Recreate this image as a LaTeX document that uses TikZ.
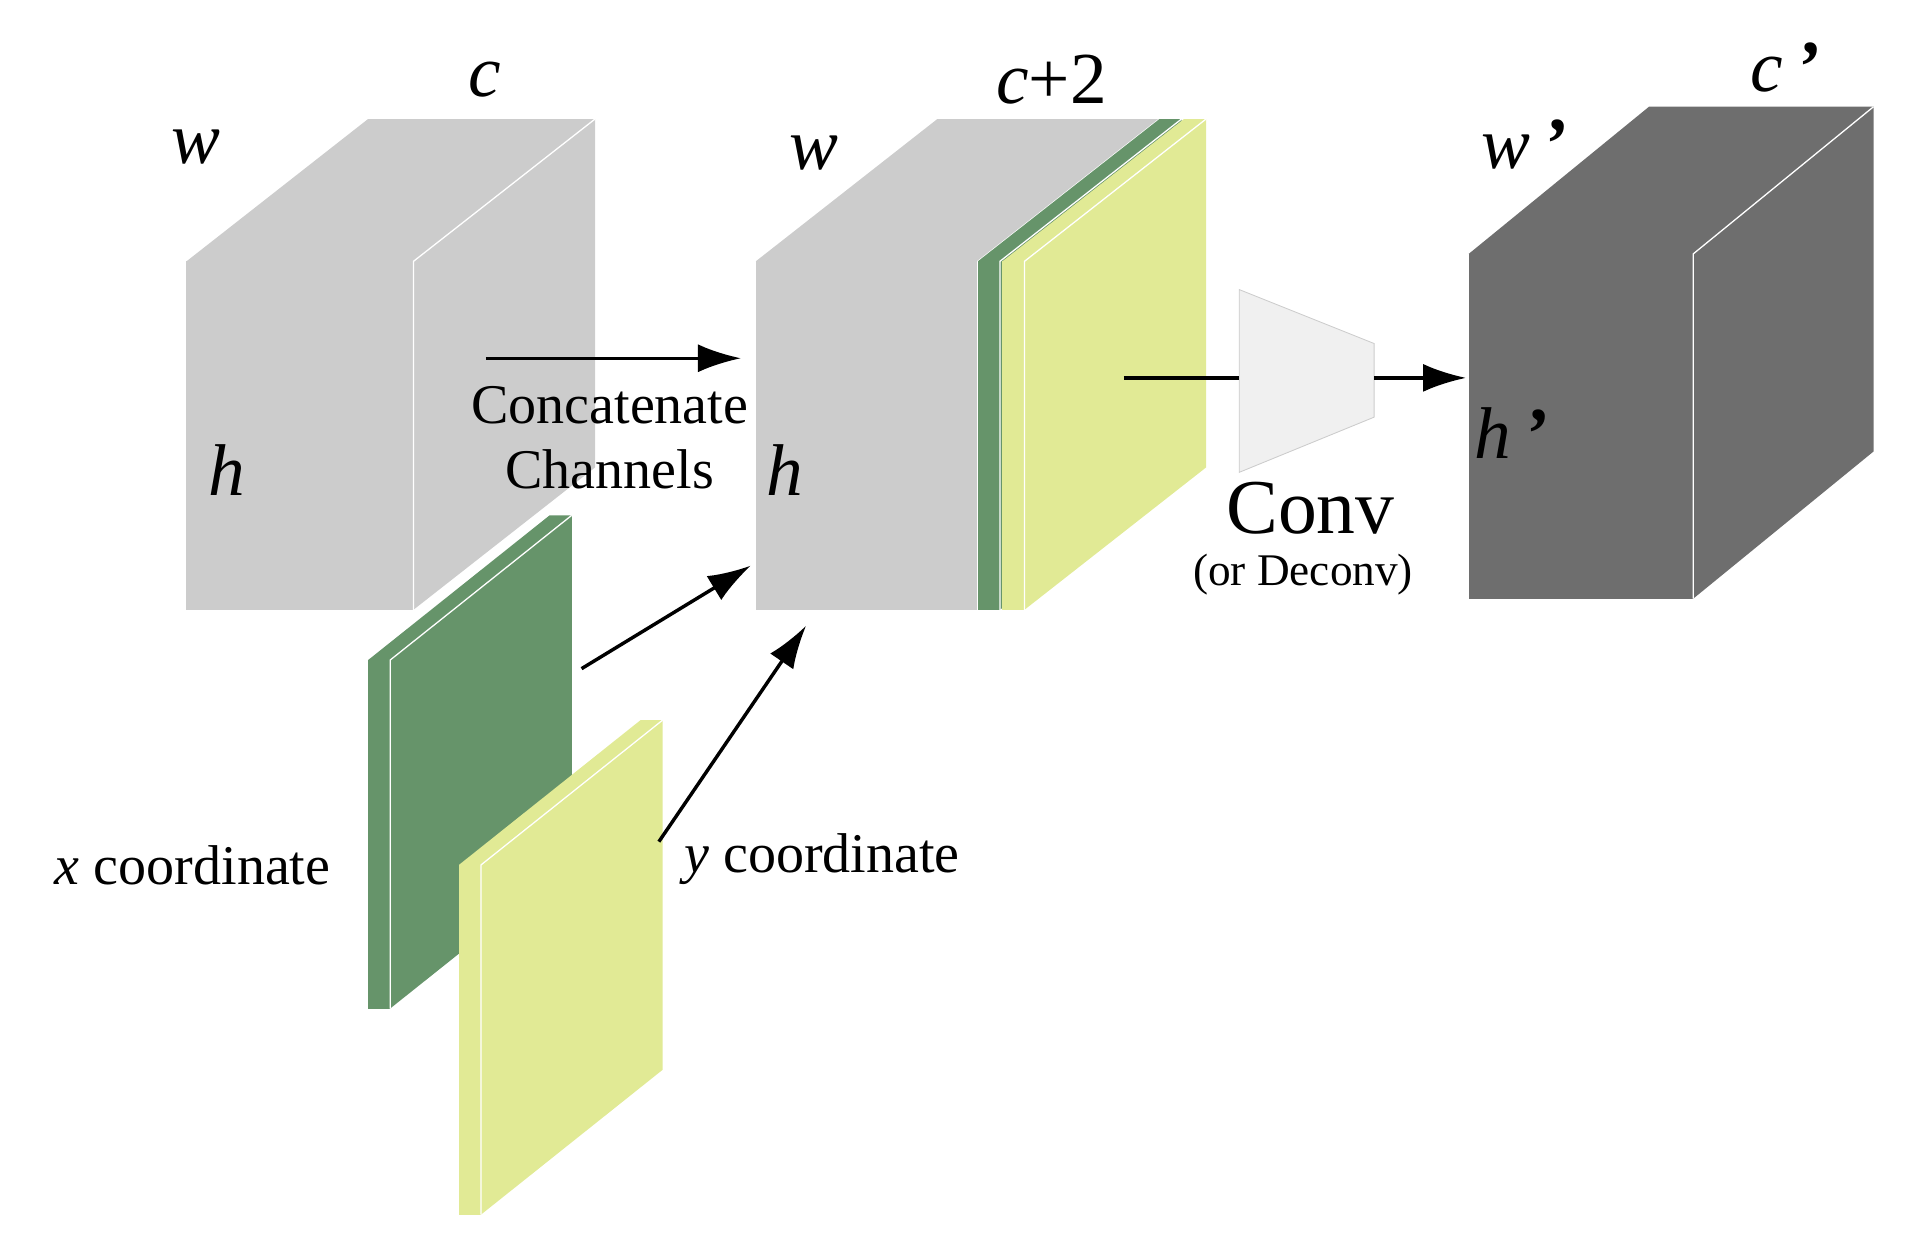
\documentclass[tikz,border=0pt]{standalone}
\usepackage{fontspec}
\setmainfont{Liberation Serif}
\usetikzlibrary{arrows.meta,calc}
\definecolor{lgrey}{HTML}{CCCCCC}
\definecolor{dgrey}{HTML}{6E6E6E}
\definecolor{lgreen}{HTML}{66946A}
\definecolor{lyellow}{HTML}{E1EA95}
\newcommand{\slab}[6]{% x0 x1 ytop ybot dx/dy colour
  \fill[#6] (#1,#3) rectangle (#2,#4);
  \fill[#6] (#1,#3) -- ++(#5) -- ($(#2,#3)+(#5)$) -- (#2,#3) -- cycle;
  \fill[#6] (#2,#3) -- ++(#5) -- ($(#2,#4)+(#5)$) -- (#2,#4) -- cycle;
  \draw[white,line width=0.6pt] (#2,#4) -- (#2,#3) -- ++(#5);
}
\begin{document}
\begin{tikzpicture}[x=0.02cm,y=-0.02cm,
    lbl/.style={font=\fontsize{34}{38}\selectfont\itshape},
    txt/.style={font=\fontsize{26}{30}\selectfont},
    arr/.style={-{Latex[length=20pt,width=13pt]},line width=1.6pt}]
  \useasboundingbox (0,0) rectangle (1560,1026);
  % input block
  \slab{152}{337}{213}{497}{148,-116}{lgrey}
  \node[lbl] (w1) at (160,120) {w};
  \node[lbl] (c1) at (395,65) {c};
  \node[lbl] (h1) at (185,383) {h};
  % coordinate channels
  \slab{300}{318}{538}{822}{148,-118}{lgreen}
  \slab{374}{392}{705}{990}{148,-118}{lyellow}
  \node[txt] (xc) at (157,705) {\textit{x} coordinate};
  \node[txt] (yc) at (670,700) {\textit{y} coordinate};
  % concatenated block
  \slab{616}{797}{213}{497}{148,-116}{lgrey}
  \slab{797}{815}{213}{497}{148,-116}{lgreen}
  \slab{817}{835}{213}{497}{148,-116}{lyellow}
  \node[lbl] (w2) at (663,125) {w};
  \node[lbl] (c2) at (857,65) {\textit{c}\textup{+2}};
  \node[lbl] (h2) at (640,383) {h};
  \node[txt,align=center] (cat) at (497,357) {Concatenate\\Channels};
  % conv
  \draw[lgrey,fill=black!6] (1010,236) coordinate (cv1) -- (1120,280) -- (1120,340) -- (1010,385) -- cycle;
  \coordinate (cvin) at (1010,308);
  \coordinate (cvout) at (1120,308);
  \node[font=\fontsize{36}{40}\selectfont] (conv) at (1068,414) {Conv};
  \node[font=\fontsize{21}{25}\selectfont] (dconv) at (1062,468) {(or Deconv)};
  % output block
  \slab{1197}{1380}{207}{488}{147,-120}{dgrey}
  \node[lbl] (w3) at (1242,118) {w\,\textbf{’}};
  \node[lbl] (c3) at (1455,55) {c\,\textbf{’}};
  \node[lbl] (h3) at (1232,353) {h\,\textbf{’}};
  % connectors
  \coordinate (a1) at (396,292); \coordinate (a2) at (604,292);
  \coordinate (b1) at (474,545); \coordinate (b2) at (612,461);
  \coordinate (d1) at (537,686); \coordinate (d2) at (657,510);
  \coordinate (e1) at (916,308); \coordinate (f2) at (1195,308);
  \draw[arr] (a1) -- (a2);
  \draw[arr] (b1) -- (b2);
  \draw[arr] (d1) -- (d2);
  \draw[line width=1.6pt] (e1) -- (cvin);
  \draw[arr] (cvout) -- (f2);
\end{tikzpicture}
\end{document}
